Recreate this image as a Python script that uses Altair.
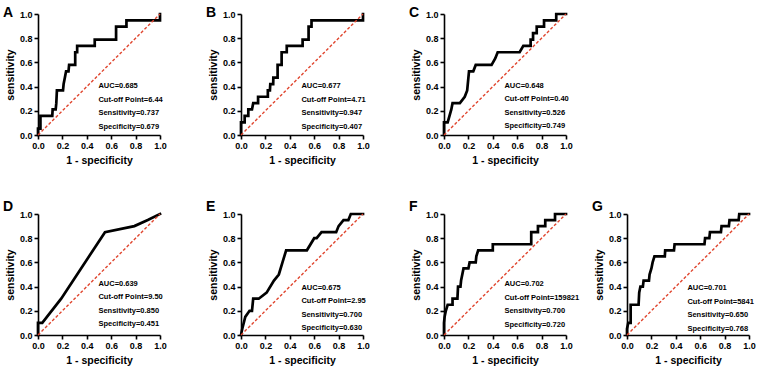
import altair as alt
import pandas as pd

FONT = "Liberation Sans"
RED = "#e0452e"

# ROC coordinates for each marker: 1 - specificity (fpr) and sensitivity (tpr)
a_fpr = [0, 0, 0.02, 0.02, 0.117, 0.12, 0.145, 0.15, 0.155, 0.205, 0.21, 0.22, 0.23, 0.25, 0.255, 0.305, 0.305, 0.321, 0.321, 0.465, 0.465, 0.64, 0.64, 0.725, 0.725, 1.0, 1.0]
a_tpr = [0, 0.053, 0.053, 0.158, 0.158, 0.211, 0.211, 0.263, 0.368, 0.368, 0.421, 0.474, 0.526, 0.526, 0.579, 0.579, 0.684, 0.684, 0.737, 0.737, 0.789, 0.789, 0.895, 0.895, 0.947, 0.947, 1.0]

b_fpr = [0, 0, 0.03, 0.03, 0.06, 0.06, 0.09, 0.10, 0.14, 0.14, 0.22, 0.22, 0.237, 0.24, 0.264, 0.265, 0.30, 0.30, 0.333, 0.333, 0.375, 0.375, 0.505, 0.505, 0.554, 0.554, 0.578, 0.578, 1.0, 1.0]
b_tpr = [0, 0.105, 0.105, 0.158, 0.158, 0.211, 0.211, 0.263, 0.263, 0.316, 0.316, 0.368, 0.368, 0.421, 0.421, 0.474, 0.474, 0.579, 0.579, 0.684, 0.684, 0.737, 0.737, 0.789, 0.789, 0.895, 0.895, 0.947, 0.947, 1.0]

c_fpr = [0, 0, 0.03, 0.06, 0.07, 0.13, 0.17, 0.19, 0.205, 0.24, 0.26, 0.39, 0.42, 0.44, 0.62, 0.65, 0.71, 0.71, 0.73, 0.73, 0.76, 0.76, 0.82, 0.82, 0.92, 0.92, 1.0]
c_tpr = [0, 0.105, 0.105, 0.211, 0.263, 0.263, 0.316, 0.368, 0.526, 0.526, 0.579, 0.579, 0.632, 0.684, 0.684, 0.737, 0.737, 0.789, 0.789, 0.842, 0.842, 0.895, 0.895, 0.947, 0.947, 1.0, 1.0]

d_fpr = [0, 0, 0.035, 0.19, 0.549, 0.79, 0.9, 1.0]
d_tpr = [0, 0.10, 0.10, 0.30, 0.85, 0.90, 0.95, 1.0]

e_fpr = [0, 0.01, 0.035, 0.07, 0.09, 0.10, 0.145, 0.21, 0.27, 0.31, 0.34, 0.37, 0.54, 0.60, 0.62, 0.66, 0.78, 0.80, 0.84, 0.88, 0.90, 1.0]
e_tpr = [0, 0.05, 0.15, 0.20, 0.20, 0.30, 0.30, 0.35, 0.45, 0.50, 0.60, 0.70, 0.70, 0.80, 0.80, 0.85, 0.85, 0.90, 0.95, 0.95, 1.0, 1.0]

f_fpr = [0, 0, 0.005, 0.015, 0.03, 0.07, 0.07, 0.11, 0.115, 0.135, 0.14, 0.16, 0.20, 0.21, 0.26, 0.265, 0.28, 0.40, 0.40, 0.715, 0.715, 0.77, 0.77, 0.83, 0.83, 0.91, 0.91, 1.0]
f_tpr = [0, 0.10, 0.15, 0.20, 0.25, 0.25, 0.30, 0.30, 0.40, 0.40, 0.45, 0.55, 0.55, 0.60, 0.60, 0.65, 0.70, 0.70, 0.75, 0.75, 0.85, 0.85, 0.90, 0.90, 0.95, 0.95, 1.0, 1.0]

g_fpr = [0, 0, 0.01, 0.03, 0.03, 0.095, 0.10, 0.11, 0.13, 0.136, 0.18, 0.185, 0.20, 0.21, 0.225, 0.31, 0.313, 0.385, 0.39, 0.635, 0.64, 0.675, 0.68, 0.77, 0.775, 0.835, 0.84, 0.915, 0.92, 1.0]
g_tpr = [0, 0.05, 0.10, 0.10, 0.25, 0.25, 0.35, 0.40, 0.40, 0.45, 0.45, 0.50, 0.55, 0.60, 0.65, 0.65, 0.70, 0.70, 0.75, 0.75, 0.80, 0.80, 0.85, 0.85, 0.90, 0.90, 0.95, 0.95, 1.0, 1.0]

panel_letters = ["A", "B", "C", "D", "E", "F", "G"]
auc_values = [0.685, 0.677, 0.648, 0.639, 0.675, 0.702, 0.701]
cutoff_points = ["6.44", "4.71", "0.40", "9.50", "2.95", "159821", "5841"]
sensitivities = [0.737, 0.947, 0.526, 0.850, 0.700, 0.700, 0.650]
specificities = [0.679, 0.407, 0.749, 0.451, 0.630, 0.720, 0.768]
axis_ticks = [0.0, 0.2, 0.4, 0.6, 0.8, 1.0]

curves = [(a_fpr, a_tpr), (b_fpr, b_tpr), (c_fpr, c_tpr), (d_fpr, d_tpr),
          (e_fpr, e_tpr), (f_fpr, f_tpr), (g_fpr, g_tpr)]

# vertical placement of the first statistics line in each panel (data units)
label_top = [0.405, 0.405, 0.408, 0.425, 0.39, 0.42, 0.388]
LABEL_X = 0.495
LINE_GAP = 0.112

# panel letters sit a little lower on the top row than on the bottom row
letter_dy = [15, 15, 15, 9, 9, 9, 9]

PLOT_W = 122
PLOT_H = 121


def roc_panel(i):
    fpr, tpr = curves[i]
    x_enc = alt.X("fpr:Q",
                  scale=alt.Scale(domain=[0, 1], nice=False, zero=False),
                  axis=alt.Axis(values=axis_ticks, format=".1f", title="1 - specificity"))
    y_enc = alt.Y("tpr:Q",
                  scale=alt.Scale(domain=[0, 1], nice=False, zero=False),
                  axis=alt.Axis(values=axis_ticks, format=".1f", title="sensitivity"))

    curve_df = pd.DataFrame({"fpr": fpr, "tpr": tpr, "step": list(range(len(fpr)))})
    curve = alt.Chart(curve_df).mark_line(
        color="black", strokeWidth=2.7, strokeJoin="miter", strokeCap="square"
    ).encode(x=x_enc, y=y_enc, order="step:Q")

    diag = alt.Chart(pd.DataFrame({"fpr": [0, 1], "tpr": [0, 1]})).mark_line(
        color=RED, strokeWidth=1.4, strokeDash=[3, 2]
    ).encode(x=x_enc, y=y_enc)

    lines = [f"AUC={auc_values[i]:.3f}",
             f"Cut-off Point={cutoff_points[i]}",
             f"Sensitivity={sensitivities[i]:.3f}",
             f"Specificity={specificities[i]:.3f}"]
    stats_df = pd.DataFrame({
        "fpr": [LABEL_X] * 4,
        "tpr": [label_top[i] - k * LINE_GAP for k in range(4)],
        "label": lines,
    })
    stats = alt.Chart(stats_df).mark_text(
        align="left", baseline="middle", fontSize=7.5, fontWeight="bold",
        font=FONT, color="black"
    ).encode(x=x_enc, y=y_enc, text="label:N")

    return alt.layer(curve, diag, stats).properties(
        width=PLOT_W, height=PLOT_H,
        title=alt.TitleParams(panel_letters[i], anchor="start", frame="group",
                              dx=-35, dy=letter_dy[i], fontSize=14, fontWeight="bold",
                              font=FONT, color="black"),
    )


panels = [roc_panel(i) for i in range(7)]

top_row = alt.hconcat(panels[0], panels[1], panels[2], spacing=81, bounds="flush")
# under flush bounds the nested D-F group has no size of its own,
# so this spacing is measured from D's left edge to G's left edge
bottom_left = alt.hconcat(panels[3], panels[4], panels[5], spacing=81, bounds="flush")
bottom_row = alt.hconcat(bottom_left, panels[6], spacing=589, bounds="flush")

chart = alt.vconcat(top_row, bottom_row, spacing=200, bounds="flush").properties(
    padding={"left": 3, "top": 5, "right": 5, "bottom": 4},
    background="white",
).configure_view(stroke=None).configure_axis(
    domainColor="black", domainWidth=1.6, tickColor="black", tickWidth=1.6,
    tickSize=4, grid=False, labelFont=FONT, labelFontSize=9, labelFontWeight="bold",
    labelColor="black", labelPadding=2, labelFlush=False,
    titleFont=FONT, titleFontSize=10.5, titleFontWeight="bold", titleColor="black",
).configure_axisX(titlePadding=5).configure_axisY(titlePadding=4)

chart.save("out.html", embed_options={"renderer": "svg", "actions": False})
